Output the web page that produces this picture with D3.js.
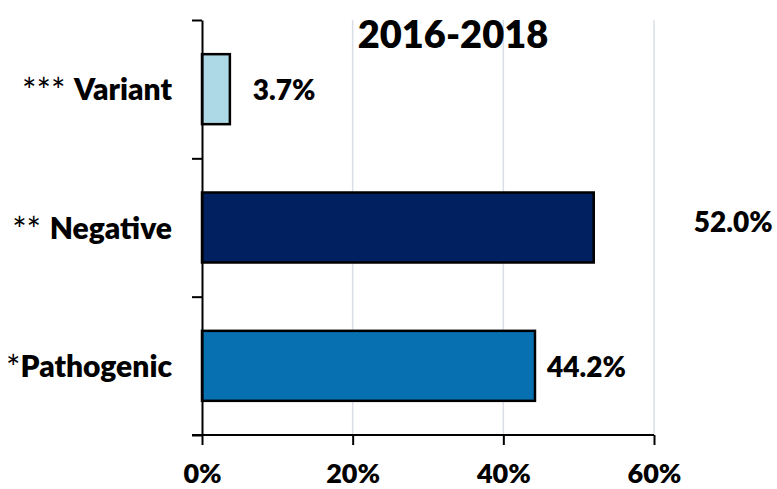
<!DOCTYPE html>
<html>
<head>
<meta charset="utf-8">
<script src="https://cdn.jsdelivr.net/npm/d3@7"></script>
<style>
  html, body { margin: 0; padding: 0; background: #fff; }
  svg { display: block; font-family: Lato, "Open Sans", sans-serif; }
  .heavy { font-weight: 800; }
</style>
</head>
<body>
<svg id="chart" width="777" height="489"></svg>
<script>
// Result categories, top to bottom, with their footnote markers
const categories = ["Variant", "Negative", "Pathogenic"];
const markers = ["***", "**", "*"];
// Share of results, in percent
const values = [3.7, 52.0, 44.2];
const barColors = ["#add8e6", "#002060", "#0770b0"];
const xTicks = [0, 20, 40, 60];
const title = "2016-2018";

// Value label placement (dx from bar end, dy from band centre)
const labelNudge = [[23, 1], [100, -6], [12, 1]];

const svg = d3.select("#chart");
const plotLeft = 202, plotRight = 654, plotTop = 20, plotBottom = 435;

const x = d3.scaleLinear().domain([0, 60]).range([plotLeft, plotRight]);
const y = d3.scaleBand().domain(categories).range([plotTop, plotBottom])
  .paddingInner(0.494).paddingOuter(0.247);

// Vertical gridlines
svg.append("g").selectAll("line")
  .data(xTicks.filter(t => t > 0))
  .join("line")
  .attr("x1", d => x(d)).attr("x2", d => x(d))
  .attr("y1", plotTop).attr("y2", plotBottom)
  .attr("stroke", "#d9dee7").attr("stroke-width", 1.5);

// Bars
svg.append("g").selectAll("rect")
  .data(categories)
  .join("rect")
  .attr("x", x(0))
  .attr("y", d => y(d))
  .attr("width", (d, i) => x(values[i]) - x(0))
  .attr("height", y.bandwidth())
  .attr("fill", (d, i) => barColors[i])
  .attr("stroke", "#000").attr("stroke-width", 2.5);

// Value axis along the bottom
const xAxis = svg.append("g")
  .attr("transform", `translate(0,${plotBottom})`)
  .call(d3.axisBottom(x).tickValues(xTicks).tickFormat(d => d + "%")
    .tickSizeInner(10).tickSizeOuter(0).tickPadding(19));
xAxis.select(".domain").remove();
xAxis.append("line")
  .attr("x1", plotLeft - 10).attr("x2", plotRight)
  .attr("stroke", "#000").attr("stroke-width", 2);
xAxis.selectAll(".tick line").attr("stroke", "#000").attr("stroke-width", 2);
xAxis.selectAll(".tick text")
  .attr("fill", "#000")
  .attr("class", "heavy")
  .style("font-size", "27px")
  .style("font-family", "Lato, sans-serif");

// Category axis: ticks sit between the bands
const yEdges = d3.scaleLinear().domain([0, categories.length]).range([plotTop, plotBottom]);
const yAxis = svg.append("g")
  .attr("transform", `translate(${plotLeft},0)`)
  .call(d3.axisLeft(yEdges).ticks(categories.length).tickFormat("")
    .tickSizeInner(10).tickSizeOuter(0));
yAxis.select(".domain").attr("stroke", "#000").attr("stroke-width", 2);
yAxis.selectAll(".tick line").attr("stroke", "#000").attr("stroke-width", 2);

// Category labels with footnote markers (markers sit a little lower, like Calibri's)
const catLabels = svg.append("g").selectAll("text")
  .data(categories)
  .join("text")
  .attr("x", plotLeft - 30)
  .attr("y", d => y(d) + y.bandwidth() / 2 + 11)
  .attr("text-anchor", "end")
  .style("font-size", "30px");
catLabels.append("tspan")
  .attr("font-weight", "normal")
  .attr("dy", 3)
  .style("font-size", "34px")
  .text((d, i) => markers[i] + (i === 2 ? "" : " "));
catLabels.append("tspan")
  .attr("class", "heavy")
  .attr("dy", -3)
  .text(d => d);

// Value labels
svg.append("g").selectAll("text")
  .data(categories)
  .join("text")
  .attr("class", "heavy")
  .attr("x", (d, i) => x(values[i]) + labelNudge[i][0])
  .attr("y", (d, i) => y(d) + y.bandwidth() / 2 + labelNudge[i][1])
  .attr("dy", "0.36em")
  .style("font-size", "28px")
  .text((d, i) => values[i].toFixed(1) + "%");

// Title
svg.append("text")
  .attr("class", "heavy")
  .attr("x", 453).attr("y", 48)
  .attr("text-anchor", "middle")
  .style("font-size", "38px")
  .text(title);
</script>
</body>
</html>
